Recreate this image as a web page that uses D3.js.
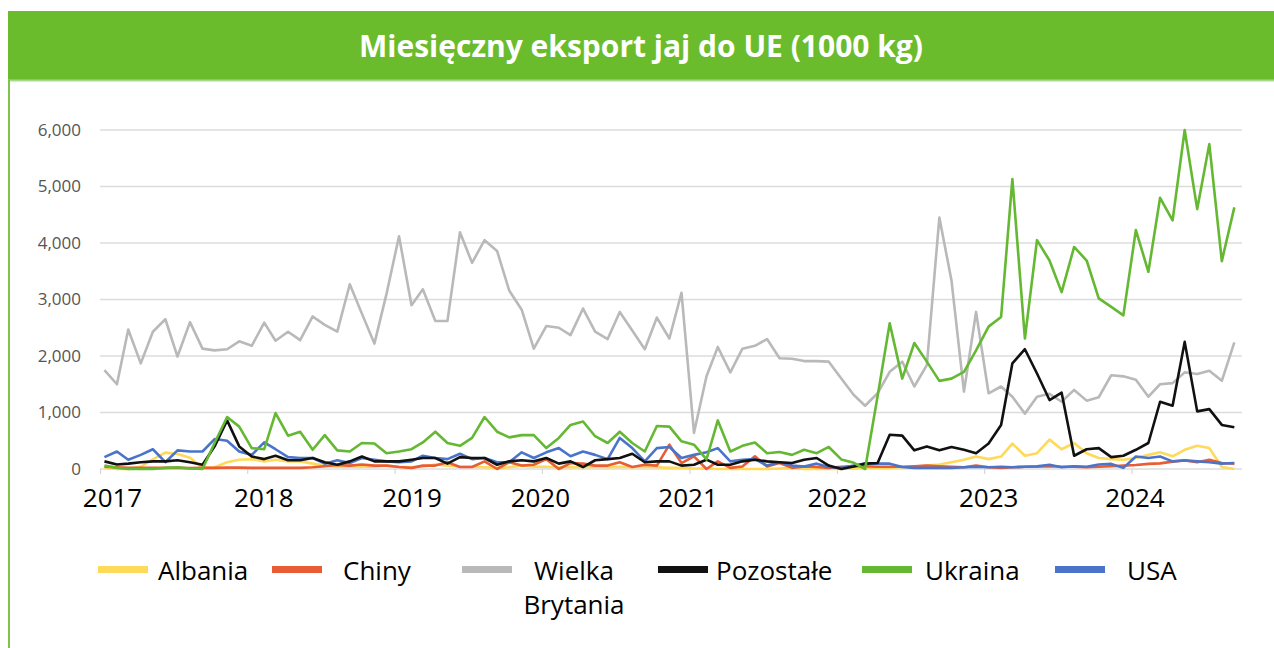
<!DOCTYPE html>
<html>
<head>
<meta charset="utf-8">
<script src="https://cdn.jsdelivr.net/npm/d3@7"></script>
<style>
  body { margin: 0; background: #fff; }
  svg { display: block; font-family: "Open Sans", "Noto Sans", sans-serif; }
</style>
</head>
<body>
<svg></svg>
<script>
const width = 1274
const height = 648

const title = "Miesięczny eksport jaj do UE (1000 kg)"
const yTicks = [0, 1000, 2000, 3000, 4000, 5000, 6000]
const years = [2017, 2018, 2019, 2020, 2021, 2022, 2023, 2024]
const seriesNames = ["Albania", "Chiny", "Wielka Brytania", "Pozostałe", "Ukraina", "USA"]
const colors = ["#ffd95a", "#e85d33", "#b9b9b9", "#111111", "#64b832", "#4a74c9"]

// monthly values, Jan 2017 .. Sep 2024
const albania = [
  20, 0, 0, 40, 170, 290, 265, 200, 20, 30, 120, 165,
  175, 135, 165, 135, 135, 95, 60, 40, 40, 40, 40, 60,
  40, 30, 40, 80, 60, 40, 40, 30, 20, 30, 60, 40,
  40, 30, 30, 30, 40, 30, 40, 30, 40, 30, 20, 20,
  10, 10, 0, 0, 0, 0, 0, 10, 20, 0, 0, 0,
  0, 10, 20, 20, 20, 30, 40, 60, 80, 120, 165, 220,
  175, 220, 450, 235, 280, 520, 350, 460, 280, 195, 175, 165,
  195, 250, 295, 225, 340, 410, 370, 35, 0
]
const chiny = [
  40, 30, 20, 20, 20, 20, 20, 15, 20, 20, 25, 25,
  20, 20, 20, 20, 20, 30, 50, 70, 60, 80, 60, 60,
  35, 20, 60, 60, 120, 35, 35, 135, 0, 120, 60, 75,
  175, 0, 105, 95, 60, 60, 120, 35, 75, 60, 430, 105,
  225, 0, 135, 20, 45, 225, 45, 105, 20, 45, 35, 20,
  40, 50, 50, 40, 40, 40, 50, 60, 50, 40, 30, 60,
  30, 20, 30, 40, 40, 50, 40, 40, 30, 40, 50, 60,
  70, 90, 100, 130, 150, 120, 165, 105, 95
]
const wielkaBrytania = [
  1750, 1500, 2470, 1870, 2430, 2650, 1990, 2600, 2130, 2100, 2120, 2260,
  2180, 2590, 2270, 2430, 2280, 2700, 2550, 2430, 3270, 2750, 2220, 3100,
  4120, 2900, 3180, 2620, 2620, 4190, 3650, 4050, 3860, 3160, 2820, 2130,
  2530, 2500, 2370, 2840, 2430, 2300, 2780, 2450, 2120, 2680, 2310, 3120,
  640, 1640, 2160, 1710, 2130, 2180, 2300, 1960, 1950, 1910, 1910, 1900,
  1600, 1310, 1120, 1340, 1720, 1900, 1460, 1840, 4450, 3340, 1370, 2780,
  1340, 1460, 1280, 980, 1280, 1330, 1190, 1400, 1210, 1270, 1660, 1640,
  1580, 1280, 1500, 1520, 1710, 1680, 1740, 1560, 2240
]
const pozostale = [
  135, 80, 95, 120, 135, 135, 155, 120, 75, 400, 860, 400,
  220, 175, 235, 155, 155, 195, 120, 75, 135, 220, 135, 135,
  135, 165, 195, 195, 95, 210, 195, 195, 75, 135, 155, 135,
  195, 95, 135, 35, 155, 175, 195, 270, 120, 135, 135, 60,
  75, 165, 75, 75, 135, 165, 135, 120, 105, 165, 195, 60,
  0, 45, 95, 105, 605, 590, 330, 400, 330, 390, 340, 280,
  450, 780, 1870, 2120, 1690, 1220, 1350, 235, 350, 370, 210, 235,
  340, 460, 1190, 1120, 2250, 1020, 1060, 780, 740
]
const ukraina = [
  60, 20, 0, 0, 0, 20, 30, 10, 0, 460, 920, 750,
  370, 350, 990, 590, 660, 340, 600, 330, 310, 460, 450, 280,
  310, 350, 470, 660, 460, 410, 550, 920, 660, 560, 600, 600,
  370, 550, 780, 840, 580, 460, 660, 460, 310, 760, 750, 490,
  430, 170, 860, 310, 410, 470, 280, 300, 250, 340, 280, 390,
  170, 110, 0, 1290, 2580, 1600, 2230, 1900, 1560, 1600, 1720, 2100,
  2520, 2690, 5130, 2310, 4050, 3690, 3130, 3930, 3690, 3020, 2870, 2720,
  4230, 3490, 4800, 4400, 6000, 4600, 5750, 3680, 4630
]
const usa = [
  210, 310, 165, 250, 350, 120, 330, 310, 310, 530, 500, 310,
  250, 470, 350, 210, 195, 195, 95, 155, 105, 195, 165, 135,
  120, 135, 235, 195, 175, 270, 175, 195, 120, 120, 295, 195,
  295, 370, 225, 310, 250, 175, 550, 370, 135, 370, 390, 195,
  250, 295, 370, 135, 165, 175, 60, 120, 60, 45, 95, 35,
  20, 60, 95, 95, 95, 35, 20, 20, 20, 20, 30, 40,
  30, 40, 30, 40, 50, 75, 30, 50, 40, 80, 90, 20,
  220, 195, 220, 135, 155, 135, 120, 95, 105
]

const seriesValues = [albania, chiny, wielkaBrytania, pozostale, ukraina, usa]

draw()

function draw() {
  const svg = d3.select("svg")
    .attr("width", width)
    .attr("height", height)

  // green banner with title
  svg.append("rect")
    .attr("x", 8).attr("y", 11)
    .attr("width", width - 8).attr("height", 69)
    .attr("fill", "#6abc2c")
  svg.append("line")
    .attr("x1", 8).attr("x2", width)
    .attr("y1", 80.5).attr("y2", 80.5)
    .attr("stroke", "#a9d98a").attr("stroke-width", 2)
  svg.append("line")
    .attr("x1", 9).attr("x2", 9)
    .attr("y1", 80).attr("y2", height)
    .attr("stroke", "#7cc44a").attr("stroke-width", 2)
  svg.append("text")
    .attr("x", 641).attr("y", 57)
    .attr("text-anchor", "middle")
    .attr("fill", "#fff")
    .style("font-size", "30px")
    .style("font-weight", 700)
    .text(title)

  const months = d3.range(albania.length).map(i => new Date(2017, i, 12))

  const x = d3.scaleTime()
    .domain([new Date(2017, 0, 1), new Date(2024, 9, 1)])
    .range([100, 1242])
  const y = d3.scaleLinear()
    .domain([0, 6000])
    .range([469, 130])

  // grid
  svg.append("g")
    .selectAll("line")
    .data(yTicks)
    .join("line")
    .attr("x1", 100).attr("x2", 1242)
    .attr("y1", d => y(d)).attr("y2", d => y(d))
    .attr("stroke", "#dcdcdc")
    .attr("stroke-width", 1.5)

  svg.append("g")
    .selectAll("text")
    .data(yTicks)
    .join("text")
    .attr("x", 81)
    .attr("y", d => y(d))
    .attr("dy", "0.35em")
    .attr("text-anchor", "end")
    .attr("fill", "#555")
    .style("font-size", "17px")
    .text(d => d3.format(",")(d))

  // x axis (labels sit a bit off their ticks in the original)
  const labelShift = [12, 16, 17, -2, -2, 0, 4, 3]
  const xAxis = d3.axisBottom(x)
    .tickValues(years.map(yr => new Date(yr, 0, 1)))
    .tickSize(5)
    .tickFormat(d3.timeFormat("%Y"))
  const gx = svg.append("g")
    .attr("transform", "translate(0,469)")
    .call(xAxis)
  gx.select(".domain").remove()
  gx.selectAll(".tick line").attr("stroke", "#d0d0d0")
  gx.selectAll(".tick text")
    .attr("fill", "#000")
    .attr("dx", (d, i) => labelShift[i])
    .attr("y", 38)
    .attr("dy", 0)
    .style("font-size", "26px")
    .style("font-family", "'Open Sans', sans-serif")

  const line = d3.line()
    .x((d, i) => x(months[i]))
    .y(d => y(d))

  // draw order: grey behind, green and black on top
  const order = [2, 0, 1, 5, 3, 4]
  svg.append("g")
    .attr("fill", "none")
    .attr("stroke-width", 2.6)
    .attr("stroke-linejoin", "round")
    .selectAll("path")
    .data(order)
    .join("path")
    .attr("stroke", i => colors[i])
    .attr("d", i => line(seriesValues[i]))

  // legend
  const legendX = [98, 272, 462, 658, 862, 1055]
  const legendTextX = [60, 71, 112, 58, 63, 72]
  const legend = svg.append("g")
    .selectAll("g")
    .data(seriesNames)
    .join("g")
    .attr("transform", (d, i) => "translate(" + legendX[i] + ",569)")

  legend.append("rect")
    .attr("x", 0).attr("y", -3)
    .attr("width", 50).attr("height", 7)
    .attr("fill", (d, i) => colors[i])

  legend.each(function (d, i) {
    const g = d3.select(this)
    const words = d === "Wielka Brytania" ? ["Wielka", "Brytania"] : [d]
    g.append("text")
      .attr("y", 11)
      .attr("text-anchor", words.length > 1 ? "middle" : "start")
      .attr("fill", "#000")
      .style("font-size", "26px")
      .selectAll("tspan")
      .data(words)
      .join("tspan")
      .attr("x", legendTextX[i])
      .attr("dy", (w, j) => j === 0 ? 0 : 34)
      .text(w => w)
  })
}
</script>
</body>
</html>
